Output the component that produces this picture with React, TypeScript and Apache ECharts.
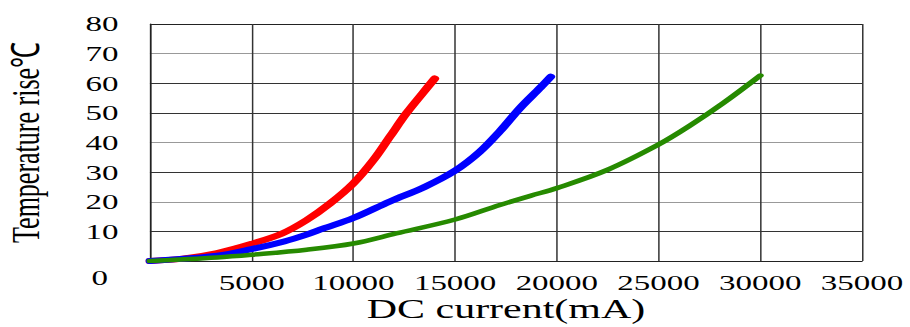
import React, { useEffect, useRef } from "react";
import * as echarts from "echarts";

// DC current (mA) and temperature rise (°C)
const redCurrent = [0, 1600, 3300, 5000, 6500, 7700, 8850, 10000, 11000, 11800, 12600, 13400, 14000];
const redRise = [0, 0.8, 2.7, 5.8, 9.3, 13.8, 19.4, 26.2, 34.2, 42, 49.8, 56.6, 61.6];

const blueCurrent = [0, 3300, 5000, 6600, 7700, 8500, 10000, 11800, 13500, 15000, 16200, 17200, 18200, 19200, 19700];
const blueRise = [0, 1.8, 4.0, 6.6, 8.9, 10.9, 14.5, 20.1, 25.0, 30.5, 36.8, 43.8, 51.7, 58.6, 62.2];

const greenCurrent = [0, 3300, 5000, 7700, 10000, 12100, 15000, 17200, 18700, 20000, 22500, 25000, 26500, 28200, 30000];
const greenRise = [0, 1.2, 2.1, 3.8, 5.9, 9.3, 14.0, 18.9, 22.0, 24.6, 30.8, 39.3, 45.5, 53.4, 62.6];

const xTitle = "DC current(mA)";
const yTitle = "Temperature rise℃";

const FONT = "'Liberation Serif', 'Times New Roman', serif";
const W = 607;
const H = 327;
const SCALE = 910 / W;

const pairs = (xs: number[], ys: number[]) => xs.map((x, i) => [x, ys[i]]);

export default function App() {
  const ref = useRef<HTMLDivElement>(null);
  useEffect(() => {
    if (!ref.current) return;
    const chart = echarts.init(ref.current, undefined, { renderer: "svg" });
    const mk = (name: string, xs: number[], ys: number[], color: string, width: number) => ({
      name,
      type: "line",
      data: pairs(xs, ys),
      smooth: 0.35,
      showSymbol: false,
      lineStyle: { color, width, cap: "round", join: "round" },
      itemStyle: { color },
    });
    chart.setOption({
      animation: false,
      backgroundColor: "#ffffff",
      grid: {
        left: 100,
        right: 32,
        top: 24,
        bottom: 66,
        containLabel: false,
        outerBoundsMode: "none",
      },
      xAxis: {
        type: "value",
        min: 0,
        max: 35000,
        interval: 5000,
        name: xTitle,
        nameLocation: "middle",
        nameGap: 35,
        nameMoveOverlap: false,
        nameTextStyle: { fontFamily: FONT, fontSize: 28, lineHeight: 26, color: "#000" },
        axisLine: { show: true, lineStyle: { color: "#222", width: 1 } },
        axisTick: { show: false },
        axisLabel: {
          fontFamily: FONT,
          fontSize: 22,
          color: "#000",
          margin: 11,
          formatter: (v: number) => (v === 0 ? "" : String(v)),
        },
        splitLine: { show: true, lineStyle: { color: "#333", width: 1 } },
      },
      yAxis: {
        type: "value",
        min: 0,
        max: 80,
        interval: 10,
        name: yTitle,
        nameLocation: "middle",
        nameGap: 70,
        nameMoveOverlap: false,
        nameTextStyle: { fontFamily: FONT, fontSize: 26, color: "#000" },
        axisLine: { show: true, lineStyle: { color: "#222", width: 1 } },
        axisTick: { show: false },
        axisLabel: {
          fontFamily: FONT,
          fontSize: 22,
          color: "#000",
          margin: 21,
          formatter: (v: number) => (v === 0 ? "{z|0}" : String(v)),
          rich: {
            z: { fontFamily: FONT, fontSize: 22, color: "#000", padding: [34, 7, 0, 0] },
          },
        },
        splitLine: {
          show: true,
          lineStyle: {
            color: ["#222", "#333", "#999", "#333", "#999", "#333", "#333", "#999", "#222"],
            width: 1,
          },
        },
      },
      series: [
        mk("red", redCurrent, redRise, "#ff0000", 6),
        mk("blue", blueCurrent, blueRise, "#0000ff", 6),
        mk("green", greenCurrent, greenRise, "#268a00", 4.5),
      ],
    });
    return () => chart.dispose();
  }, []);
  return (
    <div
      style={{
        position: "fixed",
        left: 0,
        top: 0,
        width: 910,
        height: 327,
        overflow: "hidden",
        background: "#fff",
      }}
    >
      <div
        ref={ref}
        style={{
          width: W,
          height: H,
          transform: `scaleX(${SCALE})`,
          transformOrigin: "0 0",
        }}
      />
    </div>
  );
}
